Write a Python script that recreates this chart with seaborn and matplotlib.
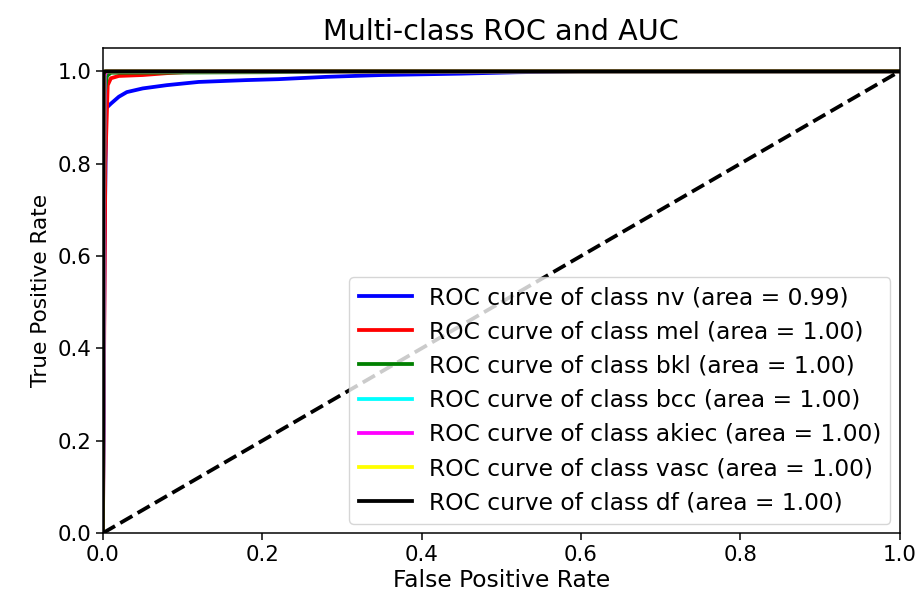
import matplotlib
matplotlib.use("Agg")
import matplotlib.pyplot as plt
import seaborn as sns
import pandas as pd

# ROC points
classes = ["nv", "mel", "bkl", "bcc", "akiec", "vasc", "df"]
aucs = [0.99, 1.00, 1.00, 1.00, 1.00, 1.00, 1.00]
colors = ["blue", "red", "green", "cyan", "magenta", "yellow", "black"]

fpr_nv = [0.0, 0.002, 0.004, 0.01, 0.02, 0.03, 0.05, 0.08, 0.12, 0.18, 0.22, 0.28, 0.35, 0.45, 0.52, 0.6, 1.0]
tpr_nv = [0.0, 0.60, 0.92, 0.93, 0.945, 0.955, 0.963, 0.97, 0.977, 0.981, 0.983, 0.988, 0.992, 0.995, 0.998, 1.0, 1.0]
fpr_mel = [0.0, 0.003, 0.006, 0.01, 0.02, 0.05, 0.08, 0.12, 1.0]
tpr_mel = [0.0, 0.80, 0.97, 0.985, 0.99, 0.992, 0.996, 1.0, 1.0]
fpr_bkl = [0.0, 0.002, 0.005, 0.01, 0.2, 0.3, 1.0]
tpr_bkl = [0.0, 0.95, 0.99, 0.997, 0.998, 1.0, 1.0]
fpr_bcc = [0.0, 0.002, 0.004, 1.0]
tpr_bcc = [0.0, 0.99, 1.0, 1.0]
fpr_akiec = [0.0, 0.002, 0.004, 1.0]
tpr_akiec = [0.0, 0.99, 1.0, 1.0]
fpr_vasc = [0.0, 0.001, 0.003, 1.0]
tpr_vasc = [0.0, 0.995, 1.0, 1.0]
fpr_df = [0.0, 0.001, 0.002, 1.0]
tpr_df = [0.0, 0.998, 1.0, 1.0]

fprs = [fpr_nv, fpr_mel, fpr_bkl, fpr_bcc, fpr_akiec, fpr_vasc, fpr_df]
tprs = [tpr_nv, tpr_mel, tpr_bkl, tpr_bcc, tpr_akiec, tpr_vasc, tpr_df]

s = 1.36
plt.rcParams["font.family"] = ["DejaVu Sans"]
plt.rcParams["font.size"] = 15.4
plt.rcParams["axes.linewidth"] = 0.8 * s
plt.rcParams["xtick.major.size"] = 3.5 * s
plt.rcParams["ytick.major.size"] = 3.5 * s
plt.rcParams["xtick.major.width"] = 0.8 * s
plt.rcParams["ytick.major.width"] = 0.8 * s

fig = plt.figure(figsize=(9.19, 6.03), dpi=100)
ax = fig.add_axes([0.112, 0.116, 0.979 - 0.112, 0.920 - 0.116])

for name, auc, col, fx, ty in zip(classes, aucs, colors, fprs, tprs):
    df = pd.DataFrame({"fpr": fx, "tpr": ty})
    sns.lineplot(data=df, x="fpr", y="tpr", color=col, lw=2 * s, sort=False,
                 estimator=None, ax=ax,
                 label=f"ROC curve of class {name} (area = {auc:.2f})")

ax.plot([0, 1], [0, 1], "k--", lw=2 * s)
ax.set_xlim(0.0, 1.0)
ax.set_ylim(0.0, 1.05)
ax.set_xlabel("False Positive Rate", fontsize=16.8, labelpad=3)
ax.set_ylabel("True Positive Rate", fontsize=15.6, labelpad=5)
ax.set_title("Multi-class ROC and AUC", fontsize=20.6, pad=6)
ax.legend(loc="lower right", fontsize=16.8, handlelength=2.3,
          handletextpad=0.7, labelspacing=0.48, borderaxespad=0.4)

fig.savefig("out.png", dpi=100)
